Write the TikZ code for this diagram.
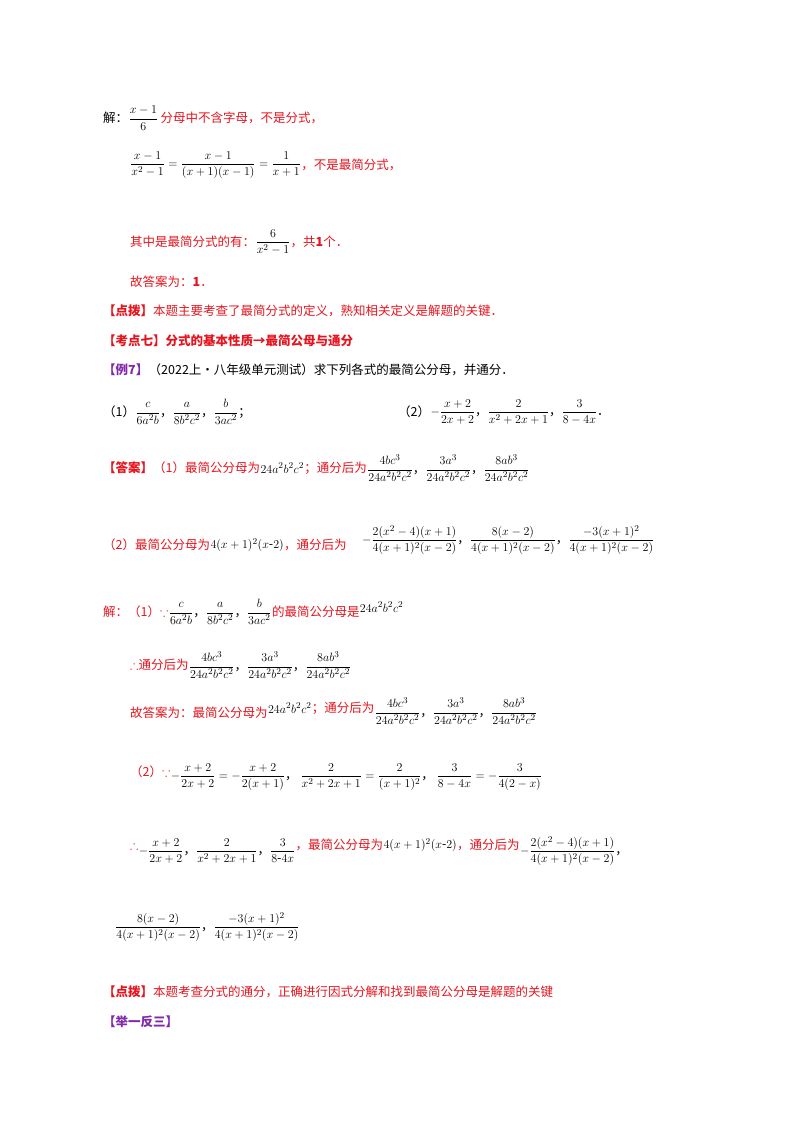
\documentclass[tikz,border=0pt]{standalone}
\usepackage{amsmath,amssymb}
\usepackage{fontspec}
\newfontfamily\cjk{Noto Sans CJK SC}
\definecolor{rd}{RGB}{230,20,30}
\definecolor{pp}{RGB}{130,40,170}
\begin{document}
\begin{tikzpicture}[x=1pt,y=-1pt,
  txt/.style={anchor=west,inner sep=0pt,font=\cjk\fontsize{12.5}{15}\selectfont},
  red/.style={txt,text=rd},
  mth/.style={anchor=west,inner sep=0pt,font=\cjk\fontsize{12.5}{15}\selectfont}]
\useasboundingbox (0,0) rectangle (800,1132);
\node[txt] (a1) at (103,118) {解：};
\node[mth] (a2) at (a1.east) {$\dfrac{x-1}{6}$};
\node[red] (a3) at (a2.east) {\,分母中不含字母，不是分式，};
\node[mth] (b1) at (130,165) {$\dfrac{x-1}{x^2-1}=\dfrac{x-1}{(x+1)(x-1)}=\dfrac{1}{x+1}$};
\node[red] (b2) at (b1.east) {，不是最简分式，};
\node[red] (c1) at (130,242) {其中是最简分式的有：};
\node[mth] (c2) at (c1.east) {$\dfrac{6}{x^2-1}$};
\node[red] (c3) at (c2.east) {，共{\bfseries 1}个．};
\node[red] (d1) at (130,282) {故答案为：\textbf{1}．};
\node[red] (e1) at (103,311) {\bfseries【点拨】\mdseries 本题主要考查了最简分式的定义，熟知相关定义是解题的关键．};
\node[red] (f1) at (103,341) {\bfseries【考点七】分式的基本性质→最简公母与通分};
\node[txt,text=pp] (g1) at (103,370) {\bfseries【例7】};
\node[txt] (g2) at (g1.east) {（2022上·八年级单元测试）求下列各式的最简公分母，并通分．};
\node[txt] (h1) at (103,412) {（1）};
\node[mth] (h2) at (h1.east) {$\dfrac{c}{6a^2b}$，$\dfrac{a}{8b^2c^2}$，$\dfrac{b}{3ac^2}$；};
\node[txt] (h3) at (398,412) {（2）};
\node[mth] (h4) at (h3.east) {$-\dfrac{x+2}{2x+2}$，$\dfrac{2}{x^2+2x+1}$，$\dfrac{3}{8-4x}$．};
\node[red] (i1) at (103,468) {\bfseries【答案】\mdseries（1）最简公分母为};
\node[mth] (i2) at (i1.east) {$24a^2b^2c^2$};
\node[red] (i3) at (i2.east) {；通分后为};
\node[mth] (i4) at (i3.east) {$\dfrac{4bc^3}{24a^2b^2c^2}$，$\dfrac{3a^3}{24a^2b^2c^2}$，$\dfrac{8ab^3}{24a^2b^2c^2}$};
\node[red] (j1) at (103,545) {（2）最简公分母为};
\node[mth] (j2) at (j1.east) {$4(x+1)^2(x\text{-}2)$};
\node[red] (j3) at (j2.east) {，通分后为};
\node[mth] (j4) at (362,540) {$-\dfrac{2(x^2-4)(x+1)}{4(x+1)^2(x-2)}$，$\dfrac{8(x-2)}{4(x+1)^2(x-2)}$，$\dfrac{-3(x+1)^2}{4(x+1)^2(x-2)}$};
\node[red] (k1) at (103,612) {解：（1）$\because$};
\node[mth] (k2) at (k1.east) {$\dfrac{c}{6a^2b}$，$\dfrac{a}{8b^2c^2}$，$\dfrac{b}{3ac^2}$};
\node[red] (k3) at (k2.east) {的最简公分母是};
\node[mth] (k4) at ([yshift=5]k3.east) {$24a^2b^2c^2$};
\node[red] (l1) at (130,665) {$\therefore$通分后为};
\node[mth] (l2) at (l1.east) {$\dfrac{4bc^3}{24a^2b^2c^2}$，$\dfrac{3a^3}{24a^2b^2c^2}$，$\dfrac{8ab^3}{24a^2b^2c^2}$};
\node[red] (m1) at (130,713) {故答案为：最简公分母为};
\node[mth] (m2) at ([yshift=5]m1.east) {$24a^2b^2c^2$};
\node[red] (m3) at (m2.east) {；通分后为};
\node[mth] (m4) at ([yshift=-3]m3.east) {$\dfrac{4bc^3}{24a^2b^2c^2}$，$\dfrac{3a^3}{24a^2b^2c^2}$，$\dfrac{8ab^3}{24a^2b^2c^2}$};
\node[red] (n1) at (130,772) {（2）$\because$};
\node[mth] (n2) at ([yshift=-5]n1.east) {$-\dfrac{x+2}{2x+2}=-\dfrac{x+2}{2(x+1)}$，\ $\dfrac{2}{x^2+2x+1}=\dfrac{2}{(x+1)^2}$，\ $\dfrac{3}{8-4x}=-\dfrac{3}{4(2-x)}$};
\node[red] (o1) at (130,845) {$\therefore$};
\node[mth] (o2) at ([yshift=-6]o1.east) {$-\dfrac{x+2}{2x+2}$，$\dfrac{2}{x^2+2x+1}$，$\dfrac{3}{8\text{-}4x}$};
\node[red] (o3) at ([yshift=6]o2.east) {，最简公分母为};
\node[mth] (o4) at (o3.east) {$4(x+1)^2(x\text{-}2)$};
\node[red] (o5) at (o4.east) {，通分后为};
\node[mth] (o6) at ([yshift=-6]o5.east) {$-\dfrac{2(x^2-4)(x+1)}{4(x+1)^2(x-2)}$，};
\node[mth] (p1) at (115,927) {$\dfrac{8(x-2)}{4(x+1)^2(x-2)}$，$\dfrac{-3(x+1)^2}{4(x+1)^2(x-2)}$};
\node[red] (q1) at (103,992) {\bfseries【点拨】\mdseries 本题考查分式的通分，正确进行因式分解和找到最简公分母是解题的关键};
\node[txt,text=pp] (r1) at (103,1022) {\bfseries【举一反三】};
\end{tikzpicture}
\end{document}
